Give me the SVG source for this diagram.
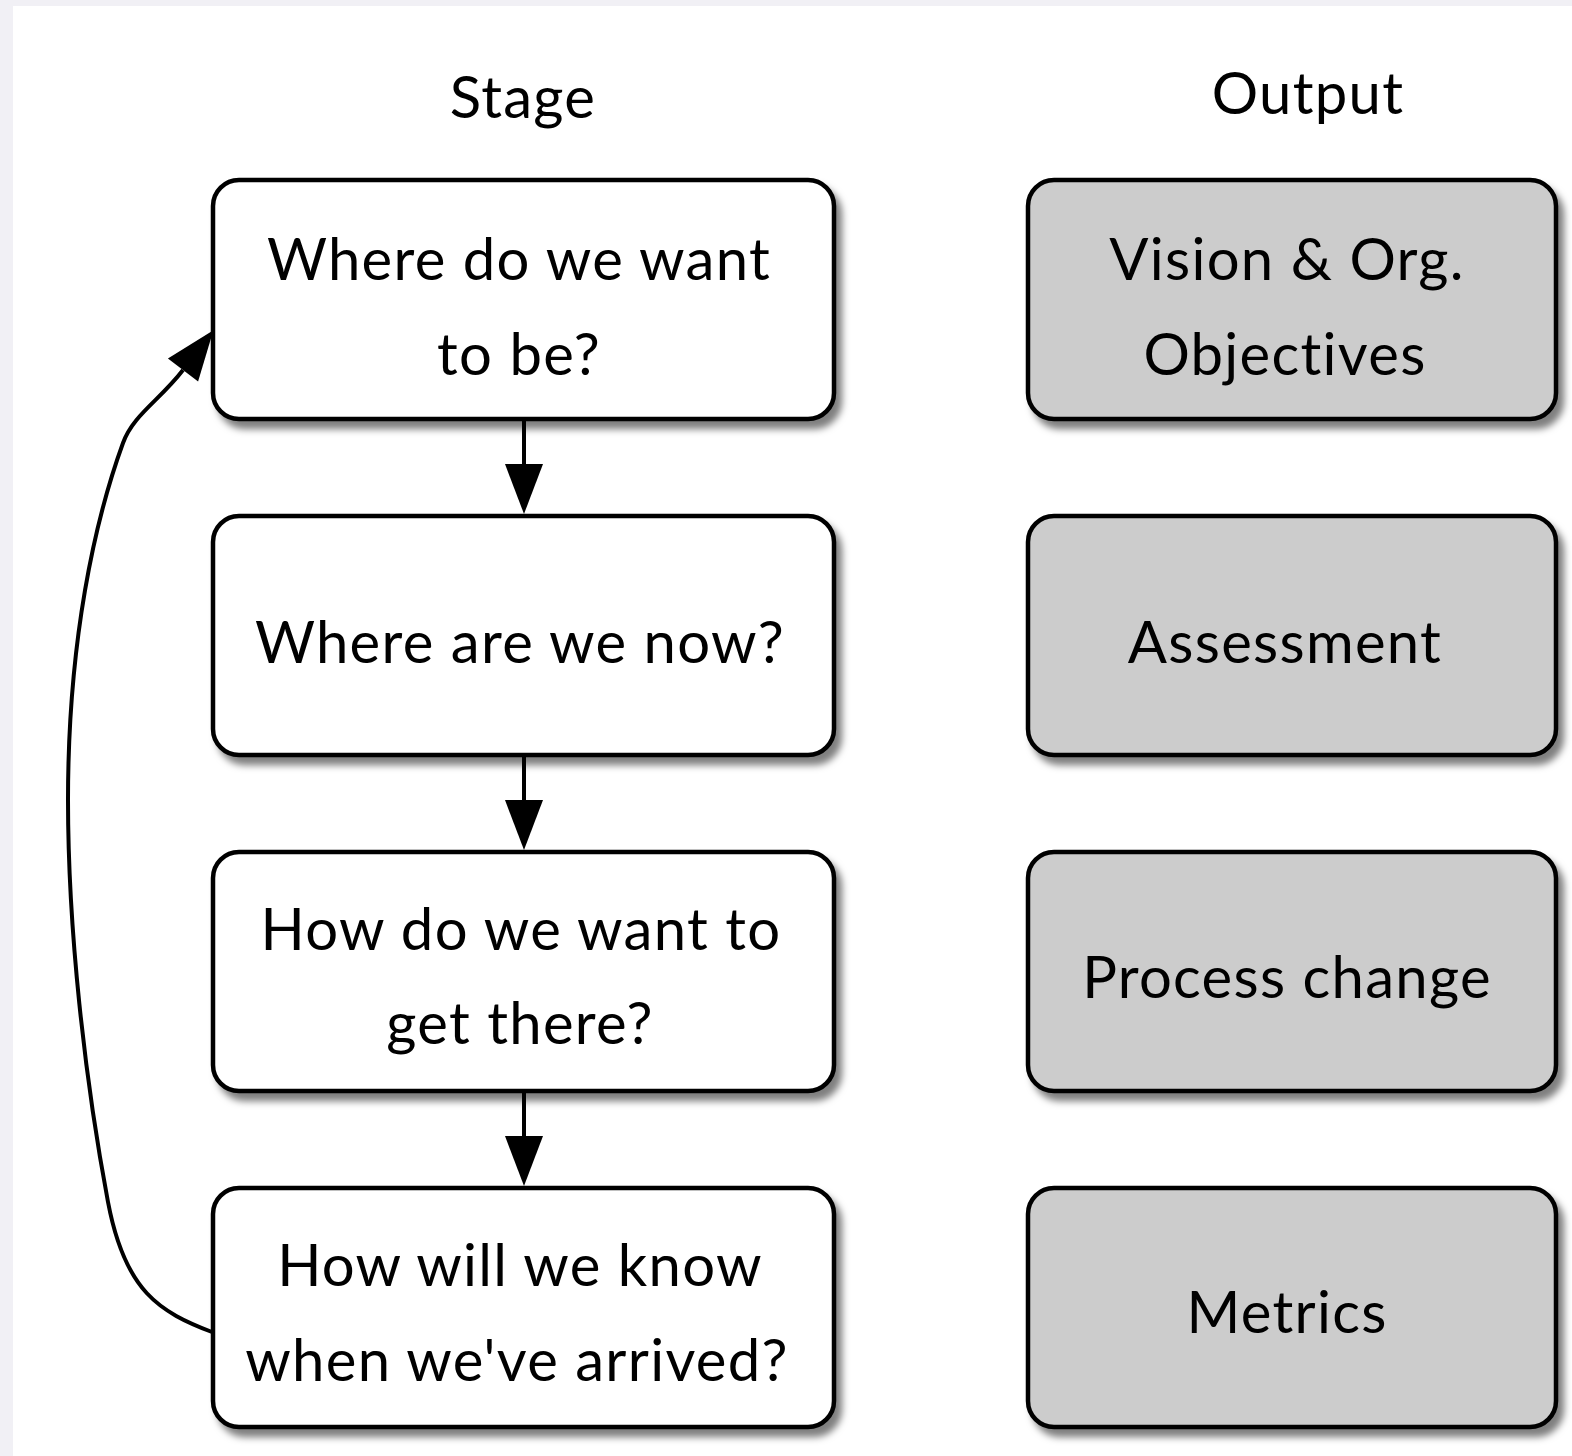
<svg xmlns="http://www.w3.org/2000/svg" width="1572" height="1456" viewBox="0 0 1572 1456">
  <style>
    .label { font-family: Lato, "Open Sans", "Liberation Sans", sans-serif; font-size: 58px; letter-spacing: 1.3px; font-variant-ligatures: none; fill: #000; text-anchor: middle; }
    .stage { fill: #ffffff; stroke: #000; stroke-width: 4.5; }
    .output { fill: #cccccc; stroke: #000; stroke-width: 4.5; }
    .conn { fill: none; stroke: #000; stroke-width: 4; }
  </style>
  <defs>
    <filter id="shadow" x="-10%" y="-10%" width="125%" height="130%">
      <feDropShadow dx="6" dy="8" stdDeviation="3.5" flood-color="#000" flood-opacity="0.5"/>
    </filter>
    <marker id="arrow" markerUnits="userSpaceOnUse" viewBox="-1 -21 54 42" markerWidth="54" markerHeight="42" refX="0" refY="0" orient="auto">
      <path d="M0,-19 L50,0 L0,19 z" fill="#000"/>
    </marker>
  </defs>

  <!-- page background -->
  <rect x="0" y="0" width="1572" height="1456" fill="#f1f0f5"/>
  <rect x="13" y="6" width="1559" height="1450" fill="#ffffff"/>

  <!-- column headers -->
  <text class="label" x="523" y="118">Stage</text>
  <text class="label" x="1308" y="114">Output</text>

  <!-- stage column -->
  <g id="stage-where-want">
    <rect class="stage" x="213" y="180" width="621" height="239" rx="26" filter="url(#shadow)"/>
    <text class="label" x="519" y="280">Where do we want</text>
    <text class="label" x="519" y="375">to be?</text>
  </g>
  <g id="stage-where-now">
    <rect class="stage" x="213" y="516" width="621" height="239" rx="26" filter="url(#shadow)"/>
    <text class="label" x="520" y="663">Where are we now?</text>
  </g>
  <g id="stage-how-get">
    <rect class="stage" x="213" y="852" width="621" height="239" rx="26" filter="url(#shadow)"/>
    <text class="label" x="521" y="950">How do we want to</text>
    <text class="label" x="520" y="1044">get there?</text>
  </g>
  <g id="stage-how-know">
    <rect class="stage" x="213" y="1188" width="621" height="239" rx="26" filter="url(#shadow)"/>
    <text class="label" x="520" y="1286">How will we know</text>
    <text class="label" x="517" y="1381">when we've arrived?</text>
  </g>

  <!-- output column -->
  <g id="output-vision">
    <rect class="output" x="1028" y="180" width="528" height="239" rx="26" filter="url(#shadow)"/>
    <text class="label" x="1287" y="280">Vision &amp; Org.</text>
    <text class="label" x="1285" y="375">Objectives</text>
  </g>
  <g id="output-assessment">
    <rect class="output" x="1028" y="516" width="528" height="239" rx="26" filter="url(#shadow)"/>
    <text class="label" x="1285" y="663">Assessment</text>
  </g>
  <g id="output-process">
    <rect class="output" x="1028" y="852" width="528" height="239" rx="26" filter="url(#shadow)"/>
    <text class="label" x="1287" y="998">Process change</text>
  </g>
  <g id="output-metrics">
    <rect class="output" x="1028" y="1188" width="528" height="239" rx="26" filter="url(#shadow)"/>
    <text class="label" x="1287" y="1333">Metrics</text>
  </g>

  <!-- connectors -->
  <g id="connectors">
    <path class="conn" d="M524,421 L524,464" marker-end="url(#arrow)"/>
    <path class="conn" d="M524,757 L524,800" marker-end="url(#arrow)"/>
    <path class="conn" d="M524,1093 L524,1136" marker-end="url(#arrow)"/>
    <path class="conn" d="M212,1332 C160,1312 125,1292 108,1202 C85,1080 68,930 68,800 C68,640 95,520 123,443 C133,415 160,400 183,370" marker-end="url(#arrow)"/>
  </g>
</svg>
